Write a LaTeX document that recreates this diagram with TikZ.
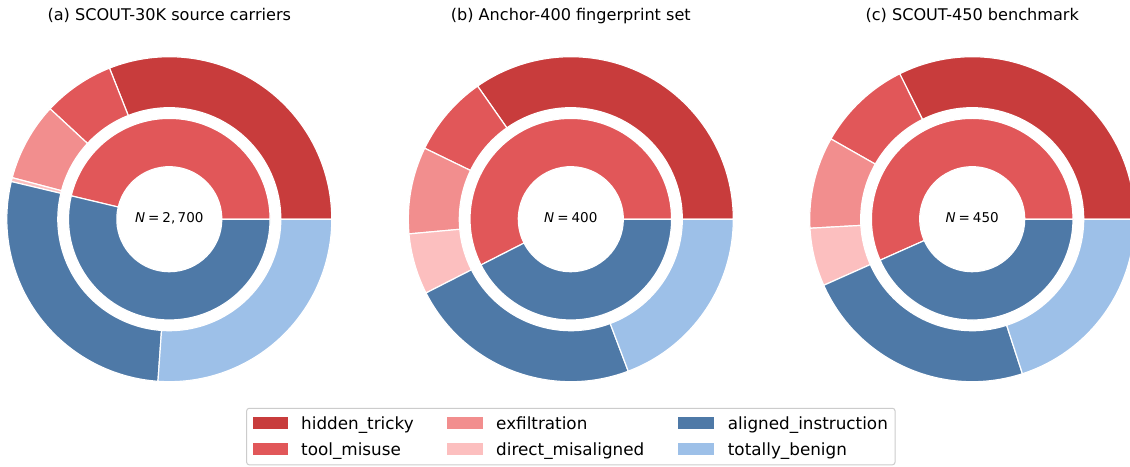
\documentclass[tikz,border=0pt]{standalone}
\usepackage{fontspec}
\setmainfont{DejaVu Sans}
\definecolor{chidden}{HTML}{C83C3C}
\definecolor{ctool}{HTML}{E15759}
\definecolor{cexfil}{HTML}{F28E8E}
\definecolor{cdirect}{HTML}{FCBFBF}
\definecolor{caligned}{HTML}{4E79A7}
\definecolor{cbenign}{HTML}{9DC0E8}
\newcommand\annsec[5]{%
  \fill[wedge, fill=#5] (#1:#3) arc[start angle=#1, end angle=#2, radius=#3]
    -- (#2:#4) arc[start angle=#2, end angle=#1, radius=#4] -- cycle;}
\newcommand\mydonut[7]{%
  \begin{scope}[shift={(#1,246.8)}]
    \annsec{0}{#2}{162.5}{111.5}{chidden}
    \annsec{#2}{#3}{162.5}{111.5}{ctool}
    \annsec{#3}{#4}{162.5}{111.5}{cexfil}
    \annsec{#4}{#5}{162.5}{111.5}{cdirect}
    \annsec{#5}{#6}{162.5}{111.5}{caligned}
    \annsec{#6}{360}{162.5}{111.5}{cbenign}
    \annsec{0}{#7}{100.8}{52.5}{ctool}
    \annsec{#7}{360}{100.8}{52.5}{caligned}
  \end{scope}}
\begin{document}
\begin{tikzpicture}[x=1pt,y=1pt,
  wedge/.style={draw=white, line width=1.2pt, line join=miter},
  ttl/.style={font=\fontsize{16.1}{19}\selectfont, anchor=base, inner sep=0pt},
  nlab/.style={font=\fontsize{13.5}{16}\selectfont, anchor=base, inner sep=0pt},
  legtxt/.style={font=\fontsize{16.8}{20}\selectfont, anchor=base west, inner sep=0pt},
  swatch/.style={draw=none}]
\useasboundingbox (0,0) rectangle (1130,466);
\clip (0,0) rectangle (1130,466);
\fill[white] (0,0) rectangle (1130,466);
% charts
\mydonut{169.3}{111.6}{137.2}{165.2}{166.6}{266.0}{166.6}
\mydonut{570.8}{125.0}{154.1}{185.2}{207.0}{290.7}{207.0}
\mydonut{972.2}{116.5}{150.4}{183.2}{204.0}{288.0}{204.0}
% titles
\node[ttl] (ta) at (169.3,445.3) {(a) SCOUT-30K source carriers};
\node[ttl] (tb) at (570.8,445.3) {(b) Anchor-400 fingerprint set};
\node[ttl] (tc) at (972.2,445.3) {(c) SCOUT-450 benchmark};
% N labels
\node[nlab] (na) at (169.3,243.3) {\textit{N}\hspace{0.22em}=\hspace{0.22em}2,\hspace{0.17em}700};
\node[nlab] (nb) at (570.8,243.3) {\textit{N}\hspace{0.22em}=\hspace{0.22em}400};
\node[nlab] (nc) at (972.2,243.3) {\textit{N}\hspace{0.22em}=\hspace{0.22em}450};
% legend
\draw[draw=black!20, line width=1pt, rounded corners=2.5pt, fill=white] (246.7,1.2) rectangle (895,57.7);
\fill[chidden] (252.7,36.7) rectangle (288.3,48.7);
\fill[ctool] (252.7,11) rectangle (288.3,23.3);
\fill[cexfil] (447.3,36.7) rectangle (483.3,48.7);
\fill[cdirect] (447.3,11) rectangle (483.3,23.3);
\fill[caligned] (678.3,36.7) rectangle (714,48.7);
\fill[cbenign] (678.3,11) rectangle (714,23.3);
\node[legtxt] (l1) at (301,36.7) {hidden\_tricky};
\node[legtxt] (l2) at (301,11) {tool\_misuse};
\node[legtxt] (l3) at (496,36.7) {exfiltration};
\node[legtxt] (l4) at (496,11) {direct\_misaligned};
\node[legtxt] (l5) at (727.7,36.7) {aligned\_instruction};
\node[legtxt] (l6) at (727.7,11) {totally\_benign};
\end{tikzpicture}
\end{document}
